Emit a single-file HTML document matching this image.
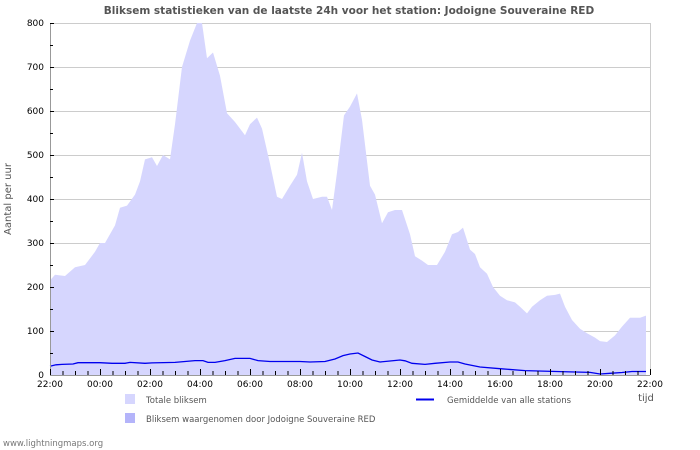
<!DOCTYPE html>
<html><head><meta charset="utf-8"><style>
body{margin:0;background:#fff;}
svg{display:block;font-family:"DejaVu Sans","Liberation Sans",sans-serif;}
</style></head><body>
<svg width="700" height="450" xmlns="http://www.w3.org/2000/svg">
<rect width="700" height="450" fill="#fff"/>
<text x="349" y="14" text-anchor="middle" font-size="10.5" font-weight="bold" fill="#555">Bliksem statistieken van de laatste 24h voor het station: Jodoigne Souveraine RED</text>
<g stroke="#ccc" stroke-width="1">
<line x1="50" y1="23.5" x2="650" y2="23.5"/>
<line x1="50" y1="67.5" x2="650" y2="67.5"/>
<line x1="50" y1="111.5" x2="650" y2="111.5"/>
<line x1="50" y1="155.5" x2="650" y2="155.5"/>
<line x1="50" y1="199.5" x2="650" y2="199.5"/>
<line x1="50" y1="243.5" x2="650" y2="243.5"/>
<line x1="50" y1="287.5" x2="650" y2="287.5"/>
<line x1="50" y1="331.5" x2="650" y2="331.5"/>
<line x1="650.5" y1="23" x2="650.5" y2="375"/>
</g>
<polygon fill="#d6d6fe" points="50,375 50,280.4 55,274.7 65,276 75,267.2 85,265 95,251.8 100,243 105,243 115,225.4 120,207.8 127,205.6 135,194.6 140,181.4 145,159.4 152,157.2 157,166 163,155 170,159.4 175,124.2 182,67 190,40.6 197,23 202,23 207,58.2 213,52.5 220,75.8 227,113.2 235,122 245,135.2 250,124.2 257,117.6 262,128.6 270,163.8 277,196.8 282,199 290,185.8 297,174.8 302,152.8 307,181.4 313,199 322,196.8 327,196.8 332,210 337,172.6 344,115.4 350,106.6 357,93.4 362,119.8 370,185.8 375,194.6 382,223.2 388,212.2 395,210 402,210 410,234.2 415,256.2 422,260.6 428,265 437,265 445,251.8 452,234.2 458,232 463,227.6 470,249.6 475,254 480,267.2 487,273.8 493,287 500,295.8 507,300.2 515,302.4 520,306.8 527,313.4 532,306.8 540,300.2 547,295.8 555,294.9 560,293.6 565,306.8 572,320 580,328.8 587,333.2 595,337.6 600,341.1 607,342 615,335.4 622,326.6 630,317.8 640,317.8 646,315.6 646,375"/>
<polyline fill="none" stroke="#0000ee" stroke-width="1.3" points="50,366.2 56,364.8 62,364.4 73,364 78,362.7 100,362.7 112,363.3 125,363.3 130,362.4 145,363.3 152,362.9 175,362.4 185,361.5 195,360.6 203,360.6 208,362.4 215,362.4 225,360.6 235,358.4 250,358.4 258,360.6 270,361.5 285,361.5 300,361.5 310,362 325,361.5 335,359 343,355.6 350,354 358,353 365,356.5 372,360 380,362 390,361 400,360 405,360.8 412,363.3 425,364.4 435,363.3 450,362 458,362 465,364 475,366 480,367 500,368.7 525,370.6 570,371.9 590,372.4 600,374 610,373.3 622,372.5 632,371.5 646,371.5"/>
<line x1="50" y1="375.5" x2="650" y2="375.5" stroke="#999" stroke-width="1"/>
<line x1="50.5" y1="23" x2="50.5" y2="375" stroke="#999" stroke-width="1"/>
<g stroke="#000" stroke-width="1">
<line x1="50" y1="45.5" x2="53" y2="45.5"/><line x1="50" y1="89.5" x2="53" y2="89.5"/><line x1="50" y1="133.5" x2="53" y2="133.5"/><line x1="50" y1="177.5" x2="53" y2="177.5"/><line x1="50" y1="221.5" x2="53" y2="221.5"/><line x1="50" y1="265.5" x2="53" y2="265.5"/><line x1="50" y1="309.5" x2="53" y2="309.5"/><line x1="50" y1="353.5" x2="53" y2="353.5"/>
<line x1="50" y1="23.5" x2="54" y2="23.5"/><line x1="50" y1="67.5" x2="54" y2="67.5"/><line x1="50" y1="111.5" x2="54" y2="111.5"/><line x1="50" y1="155.5" x2="54" y2="155.5"/><line x1="50" y1="199.5" x2="54" y2="199.5"/><line x1="50" y1="243.5" x2="54" y2="243.5"/><line x1="50" y1="287.5" x2="54" y2="287.5"/><line x1="50" y1="331.5" x2="54" y2="331.5"/>
</g>
<path stroke="#000" stroke-width="1" fill="none" d="M50.5,369V375M63,371V375M75.5,371V375M88,371V375M100.5,369V375M113,371V375M125.5,371V375M138,371V375M150.5,369V375M163,371V375M175.5,371V375M188,371V375M200.5,369V375M213,371V375M225.5,371V375M238,371V375M250.5,369V375M263,371V375M275.5,371V375M288,371V375M300.5,369V375M313,371V375M325.5,371V375M338,371V375M350.5,369V375M363,371V375M375.5,371V375M388,371V375M400.5,369V375M413,371V375M425.5,371V375M438,371V375M450.5,369V375M463,371V375M475.5,371V375M488,371V375M500.5,369V375M513,371V375M525.5,371V375M538,371V375M550.5,369V375M563,371V375M575.5,371V375M588,371V375M600.5,369V375M613,371V375M625.5,371V375M638,371V375M650.5,369V375"/>
<g font-size="9" fill="#000">
<g text-anchor="end">
<text x="44" y="26">800</text><text x="44" y="70">700</text><text x="44" y="114">600</text><text x="44" y="158">500</text><text x="44" y="202">400</text><text x="44" y="246">300</text><text x="44" y="290">200</text><text x="44" y="334">100</text><text x="44" y="378">0</text>
</g>
<g text-anchor="middle">
<text x="50" y="387">22:00</text><text x="100" y="387">00:00</text><text x="150" y="387">02:00</text><text x="200" y="387">04:00</text><text x="250" y="387">06:00</text><text x="300" y="387">08:00</text><text x="350" y="387">10:00</text><text x="400" y="387">12:00</text><text x="450" y="387">14:00</text><text x="500" y="387">16:00</text><text x="550" y="387">18:00</text><text x="600" y="387">20:00</text><text x="650" y="387">22:00</text>
</g>
</g>
<text x="646" y="401" text-anchor="middle" font-size="10" fill="#555">tijd</text>
<text transform="translate(11,199) rotate(-90)" text-anchor="middle" font-size="10" fill="#555">Aantal per uur</text>
<rect x="125" y="394" width="10" height="10" fill="#d6d6fe"/>
<text x="146" y="403" font-size="8.5" fill="#555">Totale bliksem</text>
<rect x="125" y="413" width="10" height="10" fill="#b4b4fa"/>
<text x="146" y="422" font-size="8.5" fill="#555">Bliksem waargenomen door Jodoigne Souveraine RED</text>
<line x1="416" y1="399.5" x2="434" y2="399.5" stroke="#0000ee" stroke-width="2"/>
<text x="447" y="403" font-size="8.5" fill="#555">Gemiddelde van alle stations</text>
<text x="3" y="446" font-size="8.5" fill="#777">www.lightningmaps.org</text>
</svg>
</body></html>
